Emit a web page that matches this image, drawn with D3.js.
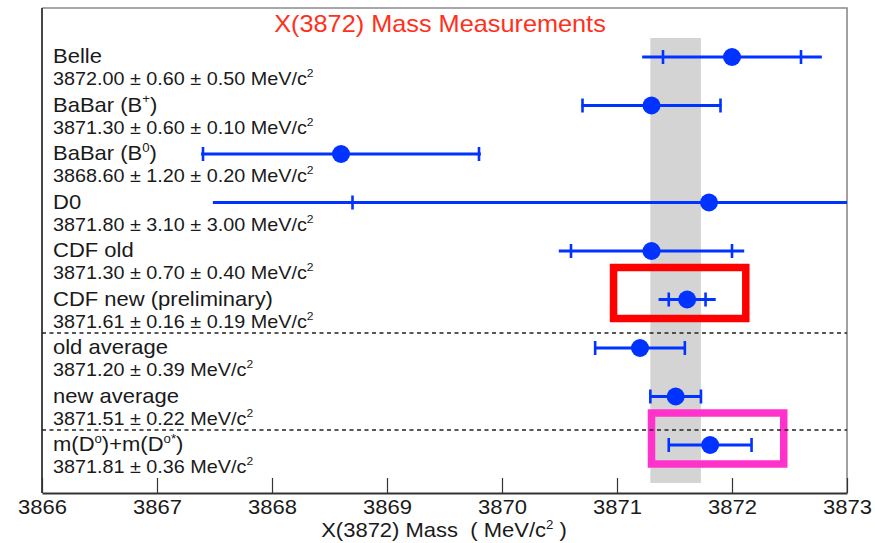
<!DOCTYPE html>
<html>
<head>
<meta charset="utf-8">
<script src="https://cdn.jsdelivr.net/npm/d3@7"></script>
<style>
  body { margin: 0; background: #fff; }
  text { font-family: "Liberation Sans", Arial, Helvetica, sans-serif; fill: #1a1a1a; }
</style>
</head>
<body>
<svg id="chart" width="875" height="543"></svg>
<script>
// Measurements of the X(3872) mass (MeV/c^2); "^{...}" marks a superscript
const labels = [
  "Belle",
  "BaBar (B^{+})",
  "BaBar (B^{0})",
  "D0",
  "CDF old",
  "CDF new (preliminary)",
  "old average",
  "new average",
  "m(D^{o})+m(D^{o*})"
];
const masses  = [3872.00, 3871.30, 3868.60, 3871.80, 3871.30, 3871.61, 3871.20, 3871.51, 3871.81];
const statErr = [0.60, 0.60, 1.20, 3.10, 0.70, 0.16, 0.39, 0.22, 0.36];
const systErr = [0.50, 0.10, 0.20, 3.00, 0.40, 0.19, null, null, null];
const tickValues = [3866, 3867, 3868, 3869, 3870, 3871, 3872, 3873];
const separatorAfter = [5, 7];          // dashed separators below these rows
const bandRow = 7;                      // shaded band = new average ± error
const highlightRows = [5, 8];
const highlightFrom = [3870.97, 3871.30];
const highlightTo   = [3872.12, 3872.45];
const highlightColors = ["#ff0000", "#ff33cc"];

const title = "X(3872) Mass Measurements";
const xTitle = "X(3872) Mass  ( MeV/c^{2} )";

const svg = d3.select("#chart");
const plotLeft = 42, plotRight = 847, plotTop = 8, plotBottom = 493;
const stretch = 1.1;   // horizontal stretch of all lettering
const blue = "#0033ff";

const x = d3.scaleLinear().domain([tickValues[0], tickValues[tickValues.length - 1]]).range([plotLeft, plotRight]);
const y = d3.scalePoint().domain(d3.range(labels.length)).range([57, 445]);

svg.append("defs").append("clipPath").attr("id", "plot")
  .append("rect").attr("x", plotLeft).attr("y", plotTop)
  .attr("width", plotRight - plotLeft).attr("height", plotBottom - plotTop);

// write text with ^{..} superscripts as tspans
function rich(sel, str, size, supSize) {
  const parts = str.split(/(\^\{[^}]*\})/).filter(s => s.length);
  const rise = size * 0.42;
  let raised = false;
  parts.forEach(p => {
    if (p.startsWith("^{")) {
      sel.append("tspan").attr("dy", -rise).attr("font-size", supSize).text(p.slice(2, -1));
      raised = true;
    } else {
      const t = sel.append("tspan").attr("font-size", size).text(p);
      if (raised) { t.attr("dy", rise); raised = false; }
    }
  });
}
function label(g, px, py, str, size, supSize, anchor, color) {
  const t = g.append("text")
    .attr("transform", `translate(${px},${py}) scale(${stretch},1)`)
    .attr("text-anchor", anchor || "start")
    .attr("font-size", size)
    .style("white-space", "pre");
  if (color) t.style("fill", color);
  rich(t, str, size, supSize);
  return t;
}

// shaded band of the new average
const bandLo = masses[bandRow] - statErr[bandRow];
const bandHi = masses[bandRow] + statErr[bandRow];
svg.append("rect")
  .attr("x", x(bandLo)).attr("width", x(bandHi) - x(bandLo))
  .attr("y", 38).attr("height", 483 - 38)
  .attr("fill", "#d4d4d4");

// frame (top/right lighter)
svg.append("path")
  .attr("d", `M${plotLeft},${plotTop}H${plotRight}V${plotBottom}`)
  .attr("fill", "none").attr("stroke", "#8a8a8a").attr("stroke-width", 1.6);
svg.append("line")
  .attr("x1", plotLeft).attr("x2", plotLeft).attr("y1", plotTop).attr("y2", plotBottom)
  .attr("stroke", "#333").attr("stroke-width", 1.8);

// highlight boxes
highlightRows.forEach((r, i) => {
  svg.append("rect")
    .attr("x", x(highlightFrom[i])).attr("width", x(highlightTo[i]) - x(highlightFrom[i]))
    .attr("y", y(r) - 32).attr("height", 51)
    .attr("fill", "none").attr("stroke", highlightColors[i]).attr("stroke-width", 7.5);
});

// dashed separators
separatorAfter.forEach(r => {
  svg.append("line")
    .attr("x1", plotLeft).attr("x2", plotRight)
    .attr("y1", y(r) + 33.5).attr("y2", y(r) + 33.5)
    .attr("stroke", "#222").attr("stroke-width", 1.6)
    .attr("stroke-dasharray", "4,3.5");
});

// x axis, ticks pointing inward
const axis = d3.axisBottom(x).tickValues(tickValues).tickFormat(d3.format("d"))
  .tickSizeInner(-15).tickSizeOuter(0).tickPadding(7);
const ax = svg.append("g").attr("transform", `translate(0,${plotBottom})`).call(axis);
ax.select(".domain").attr("stroke", "#333").attr("stroke-width", 1.8);
ax.selectAll(".tick line").attr("stroke", "#333").attr("stroke-width", 1.2);
ax.selectAll(".tick text")
  .attr("font-size", 20).attr("font-family", null)
  .attr("transform", `scale(${stretch},1)`)
  .style("fill", "#1a1a1a");

// error bars and markers
const bars = svg.append("g").attr("clip-path", "url(#plot)");
labels.forEach((_, i) => {
  const m = masses[i], s = statErr[i], sy = systErr[i];
  const tot = sy == null ? s : Math.sqrt(s * s + sy * sy);
  const yy = y(i);
  const g = bars.append("g").attr("stroke", blue);
  g.append("line").attr("x1", x(m - tot)).attr("x2", x(m + tot))
    .attr("y1", yy).attr("y2", yy).attr("stroke-width", 3);
  [m - s, m + s].forEach(v => {
    g.append("line").attr("x1", x(v)).attr("x2", x(v))
      .attr("y1", yy - 7).attr("y2", yy + 7).attr("stroke-width", 2.6);
  });
  bars.append("circle").attr("cx", x(m)).attr("cy", yy).attr("r", 9).attr("fill", blue);
});

// row labels
const lab = svg.append("g");
labels.forEach((name, i) => {
  const yy = y(i);
  label(lab, 53, yy + 6, name, 20, 12);
  const m = masses[i].toFixed(2), s = statErr[i].toFixed(2);
  const val = systErr[i] == null
    ? `${m} \u00b1 ${s} MeV/c^{2}`
    : `${m} \u00b1 ${s} \u00b1 ${systErr[i].toFixed(2)} MeV/c^{2}`;
  label(lab, 53, yy + 28, val, 18, 11);
});

// titles
label(svg, 440, 32, title, 23, 14, "middle", "#ff3020");
label(svg, 444, 537, xTitle, 20, 12, "middle");
</script>
</body>
</html>
